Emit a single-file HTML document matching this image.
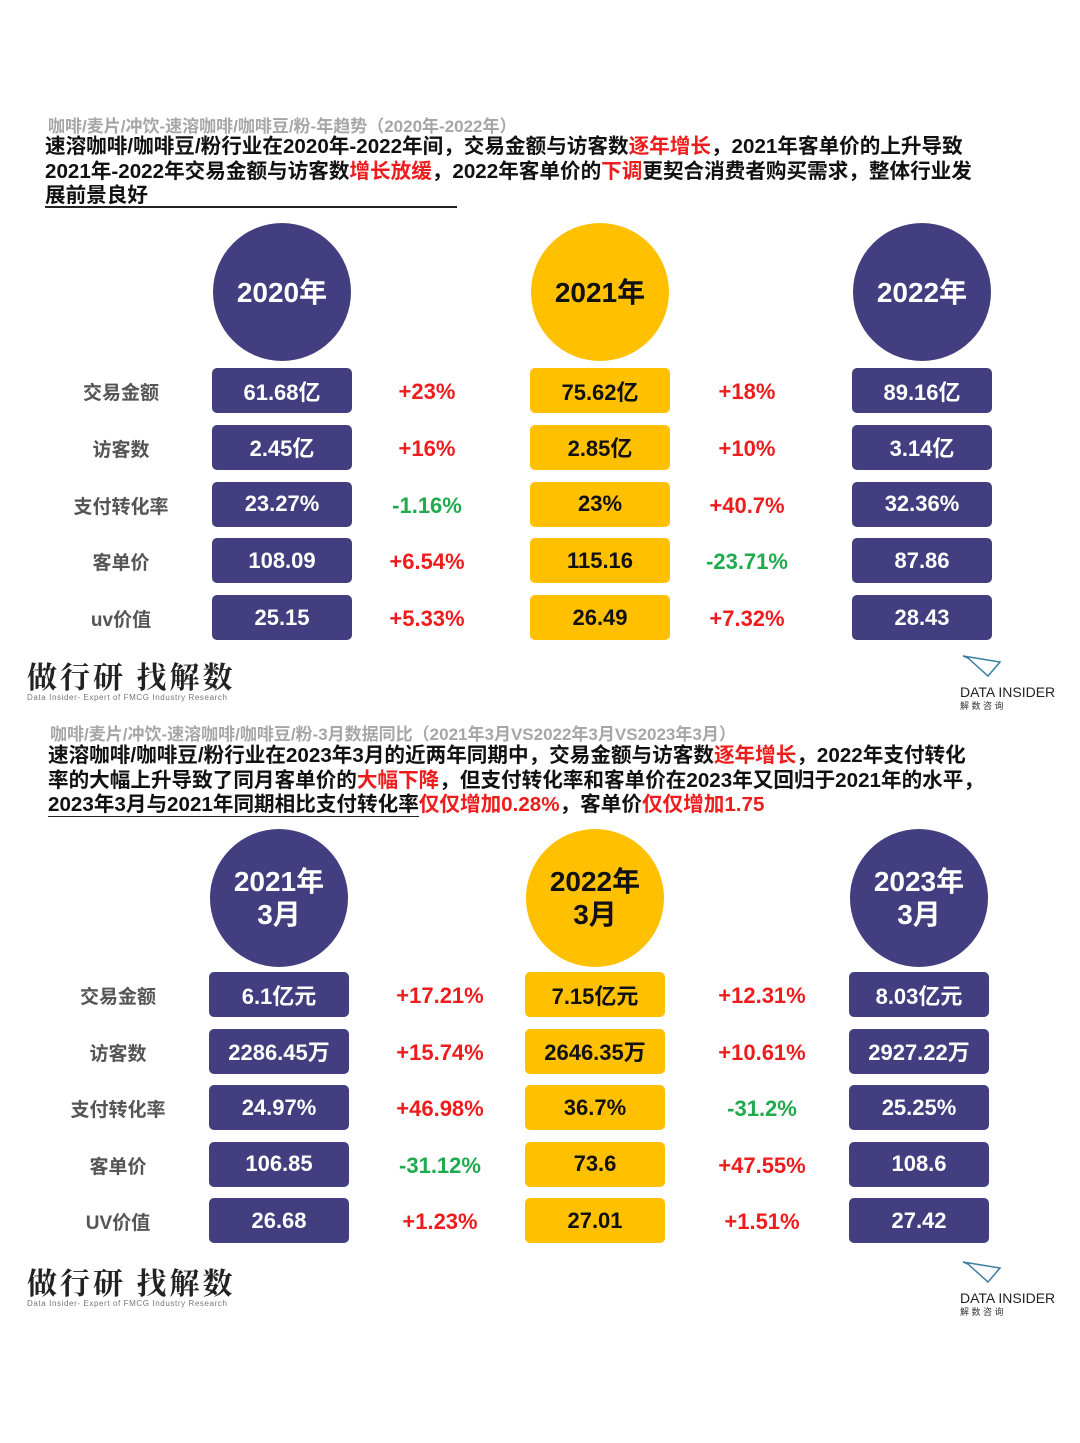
<!DOCTYPE html>
<html><head><meta charset="utf-8">
<style>
body{margin:0;width:1080px;height:1443px;background:#fff;position:relative;overflow:hidden;font-family:"Liberation Sans","Noto Sans CJK SC",sans-serif;}
.a{position:absolute;}
.hdr{color:#a6a6a6;font-size:17px;font-weight:bold;white-space:nowrap;line-height:20px;}
.txt{font-size:20.6px;font-weight:bold;color:#111;line-height:24.5px;white-space:nowrap;}
.r{color:#ee1c1c;}
.circle{position:absolute;border-radius:50%;display:flex;align-items:center;justify-content:center;text-align:center;font-weight:bold;font-size:28px;line-height:33px;}
.box{position:absolute;border-radius:5px;display:flex;align-items:center;justify-content:center;font-weight:bold;font-size:22px;}
.lbl{position:absolute;font-weight:bold;font-size:19px;color:#555;text-align:center;width:140px;}
.pct{position:absolute;font-weight:bold;font-size:22px;text-align:center;width:160px;}
.logo1{font-size:30px;font-weight:bold;letter-spacing:3px;color:#222;font-family:"Noto Serif CJK SC",serif;line-height:36px;}
.logo1s{font-size:8px;color:#777;letter-spacing:0.6px;}
</style></head><body>
<div class="a hdr" style="left:48px;top:117px">咖啡/麦片/冲饮-速溶咖啡/咖啡豆/粉-年趋势（2020年-2022年）</div>
<div class="a txt" style="left:45px;top:135px">速溶咖啡/咖啡豆/粉行业在2020年-2022年间，交易金额与访客数<span class="r">逐年增长</span>，2021年客单价的上升导致<br>2021年-2022年交易金额与访客数<span class="r">增长放缓</span>，2022年客单价的<span class="r">下调</span>更契合消费者购买需求，整体行业发<br>展前景良好</div>
<div class="a" style="left:45px;top:206px;width:412px;height:1.5px;background:#222"></div>

<div class="a hdr" style="left:50px;top:725px">咖啡/麦片/冲饮-速溶咖啡/咖啡豆/粉-3月数据同比（2021年3月VS2022年3月VS2023年3月）</div>
<div class="a txt" style="left:48px;top:744px">速溶咖啡/咖啡豆/粉行业在2023年3月的近两年同期中，交易金额与访客数<span class="r">逐年增长</span>，2022年支付转化<br>率的大幅上升导致了同月客单价的<span class="r">大幅下降</span>，但支付转化率和客单价在2023年又回归于2021年的水平，<br><span style="border-bottom:1.5px solid #222">2023年3月与2021年同期相比支付转化率</span><span class="r">仅仅增加0.28%</span>，客单价<span class="r">仅仅增加1.75</span></div>

<div id="root"></div>
<script>
const NAVY='#433e80',YEL='#ffc000',RED='#ee1c1c',GRN='#1faa4d';
// Section 1 data
const s1Years=['2020年','2021年','2022年'];
const s1Metrics=['交易金额','访客数','支付转化率','客单价','uv价值'];
const s1Values=[['61.68亿','2.45亿','23.27%','108.09','25.15'],['75.62亿','2.85亿','23%','115.16','26.49'],['89.16亿','3.14亿','32.36%','87.86','28.43']];
const s1Changes=[['+23%','+16%','-1.16%','+6.54%','+5.33%'],['+18%','+10%','+40.7%','-23.71%','+7.32%']];
// Section 2 data
const s2Years=['2021年<br>3月','2022年<br>3月','2023年<br>3月'];
const s2Metrics=['交易金额','访客数','支付转化率','客单价','UV价值'];
const s2Values=[['6.1亿元','2286.45万','24.97%','106.85','26.68'],['7.15亿元','2646.35万','36.7%','73.6','27.01'],['8.03亿元','2927.22万','25.25%','108.6','27.42']];
const s2Changes=[['+17.21%','+15.74%','+46.98%','-31.12%','+1.23%'],['+12.31%','+10.61%','-31.2%','+47.55%','+1.51%']];

const root=document.getElementById('root');
function add(cls,name,style,html){const d=document.createElement('div');d.className=cls;


Object.assign(d.style,style);d.innerHTML=html;root.appendChild(d);return d;}

function section(cfg){
  const {years,metrics,values,changes,colX,circleY,rowY,rowStep,labelX,pctX}=cfg;
  years.forEach((y,i)=>{
    const c=i===1?YEL:NAVY, tc=i===1?'#111':'#fff';
    add('circle','year-circle-'+i,{left:(colX[i]-69)+'px',top:(circleY-69)+'px',width:'138px',height:'138px',background:c,color:tc},y);
    values[i].forEach((v,j)=>{
      add('box','value-box-'+i+'-'+j,{left:(colX[i]-70)+'px',top:(rowY+j*rowStep-23)+'px',width:'140px',height:'45px',background:c,color:tc},v);
    });
  });
  metrics.forEach((m,j)=>{
    add('lbl','metric-label-'+j,{left:(labelX-70)+'px',top:(rowY+j*rowStep-13)+'px'},m);
  });
  changes.forEach((arr,i)=>arr.forEach((p,j)=>{
    add('pct','change-'+i+'-'+j,{left:(pctX[i]-80)+'px',top:(rowY+j*rowStep-12)+'px',color:p[0]==='-'?GRN:RED},p);
  }));
}
section({years:s1Years,metrics:s1Metrics,values:s1Values,changes:s1Changes,colX:[282,600,922],circleY:292,rowY:391,rowStep:56.8,labelX:121,pctX:[427,747]});
section({years:s2Years,metrics:s2Metrics,values:s2Values,changes:s2Changes,colX:[279,595,919],circleY:898,rowY:995,rowStep:56.5,labelX:118,pctX:[440,762]});

function logos(top){
  add('a','brand-logo',{left:'27px',top:top+'px'},'<div class="logo1">做行研 找解数</div><div class="logo1s">Data Insider- Expert of FMCG Industry Research</div>');
  add('a','data-insider-logo',{left:'960px',top:(top-5)+'px',textAlign:'left'},
   '<svg width="45" height="28"><path d="M3 4 L40 10 L28 24 L8 6 Z" fill="none" stroke="#3a7fa0" stroke-width="1.5"/></svg><div style="font-size:14px;color:#222;line-height:14px;margin-top:0px">DATA INSIDER</div><div style="font-size:9px;color:#333">解 数 咨 询</div>');
}
logos(657);logos(1263);
</script>
</body></html>
